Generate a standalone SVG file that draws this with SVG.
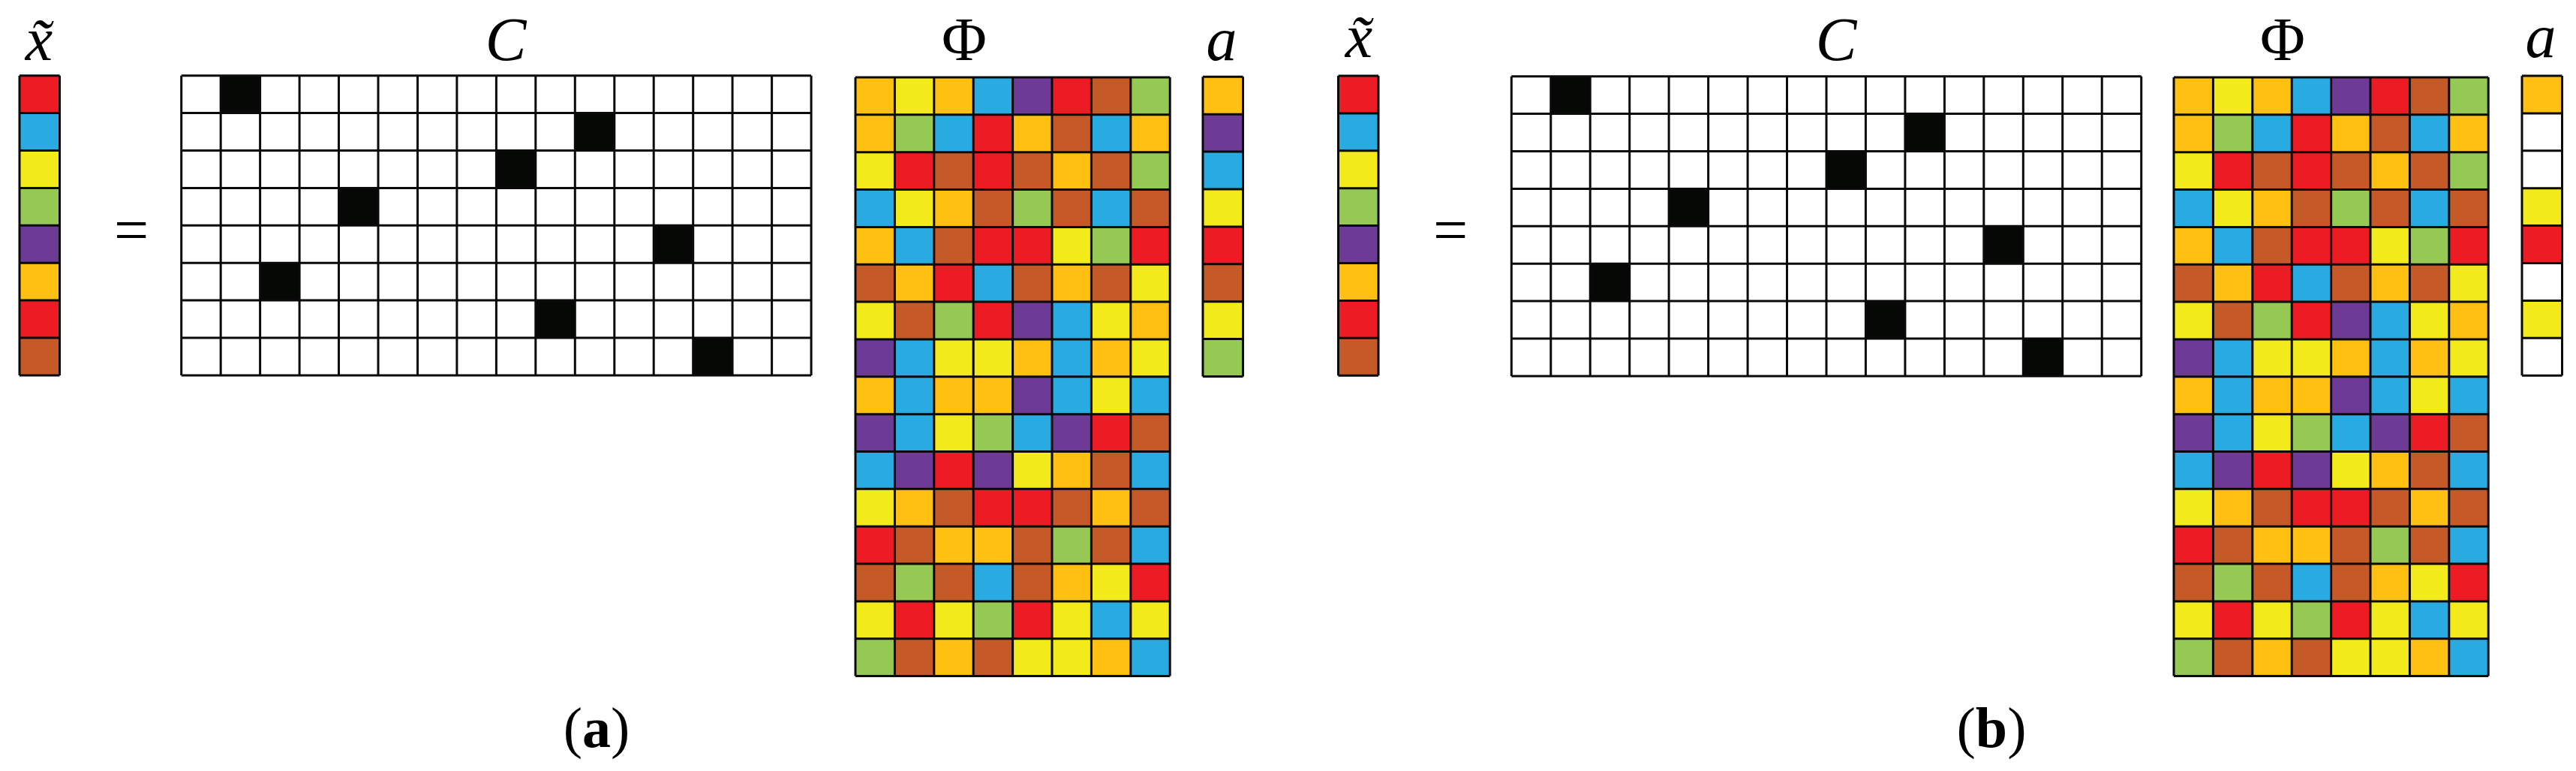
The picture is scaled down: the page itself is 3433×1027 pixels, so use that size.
<svg xmlns="http://www.w3.org/2000/svg" width="3433" height="1027" viewBox="0 0 3433 1027">
<style>
.r{fill:#ED1C24}.b{fill:#29ABE2}.y{fill:#F2EA1A}.g{fill:#96C954}.p{fill:#6D3A96}.o{fill:#FFC012}.n{fill:#C55A28}.w{fill:#fff}.k{fill:#060806}
.grid{fill:none;stroke:#0a0a0a;stroke-width:3}
.lbl{font-family:"Liberation Serif","DejaVu Serif",serif;font-style:italic;font-size:82px;fill:#000;text-anchor:middle}
.up{font-family:"Liberation Serif","DejaVu Serif",serif;font-size:82px;fill:#000;text-anchor:middle}
.cap{font-family:"Liberation Serif","DejaVu Serif",serif;font-size:76px;fill:#000;text-anchor:middle}
</style>
<defs>
<g id="phiCells">
<g><rect class="o" x="0" y="0" width="52.4" height="49.85"/><rect class="y" x="52.4" y="0" width="52.4" height="49.85"/><rect class="o" x="104.8" y="0" width="52.4" height="49.85"/><rect class="b" x="157.2" y="0" width="52.4" height="49.85"/><rect class="p" x="209.6" y="0" width="52.4" height="49.85"/><rect class="r" x="262" y="0" width="52.4" height="49.85"/><rect class="n" x="314.4" y="0" width="52.4" height="49.85"/><rect class="g" x="366.8" y="0" width="52.4" height="49.85"/></g>
<g transform="translate(0,49.85)"><rect class="o" x="0" y="0" width="52.4" height="49.85"/><rect class="g" x="52.4" y="0" width="52.4" height="49.85"/><rect class="b" x="104.8" y="0" width="52.4" height="49.85"/><rect class="r" x="157.2" y="0" width="52.4" height="49.85"/><rect class="o" x="209.6" y="0" width="52.4" height="49.85"/><rect class="n" x="262" y="0" width="52.4" height="49.85"/><rect class="b" x="314.4" y="0" width="52.4" height="49.85"/><rect class="o" x="366.8" y="0" width="52.4" height="49.85"/></g>
<g transform="translate(0,99.7)"><rect class="y" x="0" y="0" width="52.4" height="49.85"/><rect class="r" x="52.4" y="0" width="52.4" height="49.85"/><rect class="n" x="104.8" y="0" width="52.4" height="49.85"/><rect class="r" x="157.2" y="0" width="52.4" height="49.85"/><rect class="n" x="209.6" y="0" width="52.4" height="49.85"/><rect class="o" x="262" y="0" width="52.4" height="49.85"/><rect class="n" x="314.4" y="0" width="52.4" height="49.85"/><rect class="g" x="366.8" y="0" width="52.4" height="49.85"/></g>
<g transform="translate(0,149.55)"><rect class="b" x="0" y="0" width="52.4" height="49.85"/><rect class="y" x="52.4" y="0" width="52.4" height="49.85"/><rect class="o" x="104.8" y="0" width="52.4" height="49.85"/><rect class="n" x="157.2" y="0" width="52.4" height="49.85"/><rect class="g" x="209.6" y="0" width="52.4" height="49.85"/><rect class="n" x="262" y="0" width="52.4" height="49.85"/><rect class="b" x="314.4" y="0" width="52.4" height="49.85"/><rect class="n" x="366.8" y="0" width="52.4" height="49.85"/></g>
<g transform="translate(0,199.4)"><rect class="o" x="0" y="0" width="52.4" height="49.85"/><rect class="b" x="52.4" y="0" width="52.4" height="49.85"/><rect class="n" x="104.8" y="0" width="52.4" height="49.85"/><rect class="r" x="157.2" y="0" width="52.4" height="49.85"/><rect class="r" x="209.6" y="0" width="52.4" height="49.85"/><rect class="y" x="262" y="0" width="52.4" height="49.85"/><rect class="g" x="314.4" y="0" width="52.4" height="49.85"/><rect class="r" x="366.8" y="0" width="52.4" height="49.85"/></g>
<g transform="translate(0,249.25)"><rect class="n" x="0" y="0" width="52.4" height="49.85"/><rect class="o" x="52.4" y="0" width="52.4" height="49.85"/><rect class="r" x="104.8" y="0" width="52.4" height="49.85"/><rect class="b" x="157.2" y="0" width="52.4" height="49.85"/><rect class="n" x="209.6" y="0" width="52.4" height="49.85"/><rect class="o" x="262" y="0" width="52.4" height="49.85"/><rect class="n" x="314.4" y="0" width="52.4" height="49.85"/><rect class="y" x="366.8" y="0" width="52.4" height="49.85"/></g>
<g transform="translate(0,299.1)"><rect class="y" x="0" y="0" width="52.4" height="49.85"/><rect class="n" x="52.4" y="0" width="52.4" height="49.85"/><rect class="g" x="104.8" y="0" width="52.4" height="49.85"/><rect class="r" x="157.2" y="0" width="52.4" height="49.85"/><rect class="p" x="209.6" y="0" width="52.4" height="49.85"/><rect class="b" x="262" y="0" width="52.4" height="49.85"/><rect class="y" x="314.4" y="0" width="52.4" height="49.85"/><rect class="o" x="366.8" y="0" width="52.4" height="49.85"/></g>
<g transform="translate(0,348.95)"><rect class="p" x="0" y="0" width="52.4" height="49.85"/><rect class="b" x="52.4" y="0" width="52.4" height="49.85"/><rect class="y" x="104.8" y="0" width="52.4" height="49.85"/><rect class="y" x="157.2" y="0" width="52.4" height="49.85"/><rect class="o" x="209.6" y="0" width="52.4" height="49.85"/><rect class="b" x="262" y="0" width="52.4" height="49.85"/><rect class="o" x="314.4" y="0" width="52.4" height="49.85"/><rect class="y" x="366.8" y="0" width="52.4" height="49.85"/></g>
<g transform="translate(0,398.8)"><rect class="o" x="0" y="0" width="52.4" height="49.85"/><rect class="b" x="52.4" y="0" width="52.4" height="49.85"/><rect class="o" x="104.8" y="0" width="52.4" height="49.85"/><rect class="o" x="157.2" y="0" width="52.4" height="49.85"/><rect class="p" x="209.6" y="0" width="52.4" height="49.85"/><rect class="b" x="262" y="0" width="52.4" height="49.85"/><rect class="y" x="314.4" y="0" width="52.4" height="49.85"/><rect class="b" x="366.8" y="0" width="52.4" height="49.85"/></g>
<g transform="translate(0,448.65)"><rect class="p" x="0" y="0" width="52.4" height="49.85"/><rect class="b" x="52.4" y="0" width="52.4" height="49.85"/><rect class="y" x="104.8" y="0" width="52.4" height="49.85"/><rect class="g" x="157.2" y="0" width="52.4" height="49.85"/><rect class="b" x="209.6" y="0" width="52.4" height="49.85"/><rect class="p" x="262" y="0" width="52.4" height="49.85"/><rect class="r" x="314.4" y="0" width="52.4" height="49.85"/><rect class="n" x="366.8" y="0" width="52.4" height="49.85"/></g>
<g transform="translate(0,498.5)"><rect class="b" x="0" y="0" width="52.4" height="49.85"/><rect class="p" x="52.4" y="0" width="52.4" height="49.85"/><rect class="r" x="104.8" y="0" width="52.4" height="49.85"/><rect class="p" x="157.2" y="0" width="52.4" height="49.85"/><rect class="y" x="209.6" y="0" width="52.4" height="49.85"/><rect class="o" x="262" y="0" width="52.4" height="49.85"/><rect class="n" x="314.4" y="0" width="52.4" height="49.85"/><rect class="b" x="366.8" y="0" width="52.4" height="49.85"/></g>
<g transform="translate(0,548.35)"><rect class="y" x="0" y="0" width="52.4" height="49.85"/><rect class="o" x="52.4" y="0" width="52.4" height="49.85"/><rect class="n" x="104.8" y="0" width="52.4" height="49.85"/><rect class="r" x="157.2" y="0" width="52.4" height="49.85"/><rect class="r" x="209.6" y="0" width="52.4" height="49.85"/><rect class="n" x="262" y="0" width="52.4" height="49.85"/><rect class="o" x="314.4" y="0" width="52.4" height="49.85"/><rect class="n" x="366.8" y="0" width="52.4" height="49.85"/></g>
<g transform="translate(0,598.2)"><rect class="r" x="0" y="0" width="52.4" height="49.85"/><rect class="n" x="52.4" y="0" width="52.4" height="49.85"/><rect class="o" x="104.8" y="0" width="52.4" height="49.85"/><rect class="o" x="157.2" y="0" width="52.4" height="49.85"/><rect class="n" x="209.6" y="0" width="52.4" height="49.85"/><rect class="g" x="262" y="0" width="52.4" height="49.85"/><rect class="n" x="314.4" y="0" width="52.4" height="49.85"/><rect class="b" x="366.8" y="0" width="52.4" height="49.85"/></g>
<g transform="translate(0,648.05)"><rect class="n" x="0" y="0" width="52.4" height="49.85"/><rect class="g" x="52.4" y="0" width="52.4" height="49.85"/><rect class="n" x="104.8" y="0" width="52.4" height="49.85"/><rect class="b" x="157.2" y="0" width="52.4" height="49.85"/><rect class="n" x="209.6" y="0" width="52.4" height="49.85"/><rect class="o" x="262" y="0" width="52.4" height="49.85"/><rect class="y" x="314.4" y="0" width="52.4" height="49.85"/><rect class="r" x="366.8" y="0" width="52.4" height="49.85"/></g>
<g transform="translate(0,697.9)"><rect class="y" x="0" y="0" width="52.4" height="49.85"/><rect class="r" x="52.4" y="0" width="52.4" height="49.85"/><rect class="y" x="104.8" y="0" width="52.4" height="49.85"/><rect class="g" x="157.2" y="0" width="52.4" height="49.85"/><rect class="r" x="209.6" y="0" width="52.4" height="49.85"/><rect class="y" x="262" y="0" width="52.4" height="49.85"/><rect class="b" x="314.4" y="0" width="52.4" height="49.85"/><rect class="y" x="366.8" y="0" width="52.4" height="49.85"/></g>
<g transform="translate(0,747.75)"><rect class="g" x="0" y="0" width="52.4" height="49.85"/><rect class="n" x="52.4" y="0" width="52.4" height="49.85"/><rect class="o" x="104.8" y="0" width="52.4" height="49.85"/><rect class="n" x="157.2" y="0" width="52.4" height="49.85"/><rect class="y" x="209.6" y="0" width="52.4" height="49.85"/><rect class="y" x="262" y="0" width="52.4" height="49.85"/><rect class="o" x="314.4" y="0" width="52.4" height="49.85"/><rect class="b" x="366.8" y="0" width="52.4" height="49.85"/></g>
<path class="grid" d="M0 0V797.6M52.4 0V797.6M104.8 0V797.6M157.2 0V797.6M209.6 0V797.6M262 0V797.6M314.4 0V797.6M366.8 0V797.6M419.2 0V797.6M0 0H419.2M0 49.85H419.2M0 99.7H419.2M0 149.55H419.2M0 199.4H419.2M0 249.25H419.2M0 299.1H419.2M0 348.95H419.2M0 398.8H419.2M0 448.65H419.2M0 498.5H419.2M0 548.35H419.2M0 598.2H419.2M0 648.05H419.2M0 697.9H419.2M0 747.75H419.2M0 797.6H419.2"/>
</g>
<g id="cCells">
<rect class="w" x="0" y="0" width="839.4" height="399.2"/>
<rect class="k" x="52.46" y="0" width="52.46" height="49.9"/>
<rect class="k" x="524.6" y="49.9" width="52.46" height="49.9"/>
<rect class="k" x="419.7" y="99.8" width="52.46" height="49.9"/>
<rect class="k" x="209.8" y="149.7" width="52.46" height="49.9"/>
<rect class="k" x="629.5" y="199.6" width="52.46" height="49.9"/>
<rect class="k" x="104.9" y="249.5" width="52.46" height="49.9"/>
<rect class="k" x="472.1" y="299.4" width="52.46" height="49.9"/>
<rect class="k" x="682" y="349.3" width="52.46" height="49.9"/>
<path class="grid" d="M0 0V399.2M52.46 0V399.2M104.9 0V399.2M157.4 0V399.2M209.8 0V399.2M262.3 0V399.2M314.8 0V399.2M367.2 0V399.2M419.7 0V399.2M472.1 0V399.2M524.6 0V399.2M577.1 0V399.2M629.5 0V399.2M682 0V399.2M734.4 0V399.2M786.9 0V399.2M839.4 0V399.2M0 0H839.4M0 49.9H839.4M0 99.8H839.4M0 149.7H839.4M0 199.6H839.4M0 249.5H839.4M0 299.4H839.4M0 349.3H839.4M0 399.2H839.4"/>
</g>
<path id="vecGrid" class="grid" d="M0 0V399.2M53.5 0V399.2M0 0H53.5M0 49.9H53.5M0 99.8H53.5M0 149.7H53.5M0 199.6H53.5M0 249.5H53.5M0 299.4H53.5M0 349.3H53.5M0 399.2H53.5"/>
<g id="xCells">
<rect class="r" x="0" y="0" width="53.5" height="49.9"/><rect class="b" x="0" y="49.9" width="53.5" height="49.9"/><rect class="y" x="0" y="99.8" width="53.5" height="49.9"/><rect class="g" x="0" y="149.7" width="53.5" height="49.9"/><rect class="p" x="0" y="199.6" width="53.5" height="49.9"/><rect class="o" x="0" y="249.5" width="53.5" height="49.9"/><rect class="r" x="0" y="299.4" width="53.5" height="49.9"/><rect class="n" x="0" y="349.3" width="53.5" height="49.9"/>
<use href="#vecGrid"/>
</g>
</defs>

<!-- panel (a) -->
<g id="xtilde-a" transform="translate(26,100.7)"><use href="#xCells"/></g>
<text class="lbl" x="52" y="80">x̃</text>
<text class="up" x="175" y="334" font-size="112">=</text>
<g id="C-a" transform="translate(241.7,100.7)"><use href="#cCells"/></g>
<text class="lbl" x="674" y="80">C</text>
<g id="Phi-a" transform="translate(1140,103)"><use href="#phiCells"/></g>
<text class="up" x="1285" y="80">Φ</text>
<g id="a-a" transform="translate(1603,102.3)">
<rect class="o" x="0" y="0" width="53.5" height="49.9"/><rect class="p" x="0" y="49.9" width="53.5" height="49.9"/><rect class="b" x="0" y="99.8" width="53.5" height="49.9"/><rect class="y" x="0" y="149.7" width="53.5" height="49.9"/><rect class="r" x="0" y="199.6" width="53.5" height="49.9"/><rect class="n" x="0" y="249.5" width="53.5" height="49.9"/><rect class="y" x="0" y="299.4" width="53.5" height="49.9"/><rect class="g" x="0" y="349.3" width="53.5" height="49.9"/>
<use href="#vecGrid"/>
</g>
<text class="lbl" x="1628" y="80">a</text>
<text class="cap" x="795" y="995">(<tspan font-weight="bold">a</tspan>)</text>

<!-- panel (b) -->
<g id="xtilde-b" transform="translate(1783.5,101)"><use href="#xCells"/></g>
<text class="lbl" x="1811" y="76">x̃</text>
<text class="up" x="1933" y="334" font-size="112">=</text>
<g id="C-b" transform="translate(2014.3,101.7)"><use href="#cCells"/></g>
<text class="lbl" x="2447" y="80">C</text>
<g id="Phi-b" transform="translate(2897,103)"><use href="#phiCells"/></g>
<text class="up" x="3042" y="80">Φ</text>
<g id="a-b" transform="translate(3361,101)">
<rect class="o" x="0" y="0" width="53.5" height="49.9"/><rect class="w" x="0" y="49.9" width="53.5" height="49.9"/><rect class="w" x="0" y="99.8" width="53.5" height="49.9"/><rect class="y" x="0" y="149.7" width="53.5" height="49.9"/><rect class="r" x="0" y="199.6" width="53.5" height="49.9"/><rect class="w" x="0" y="249.5" width="53.5" height="49.9"/><rect class="y" x="0" y="299.4" width="53.5" height="49.9"/><rect class="w" x="0" y="349.3" width="53.5" height="49.9"/>
<use href="#vecGrid"/>
</g>
<text class="lbl" x="3386" y="76">a</text>
<text class="cap" x="2654" y="995">(<tspan font-weight="bold">b</tspan>)</text>
<g id="connectors"/>
</svg>
